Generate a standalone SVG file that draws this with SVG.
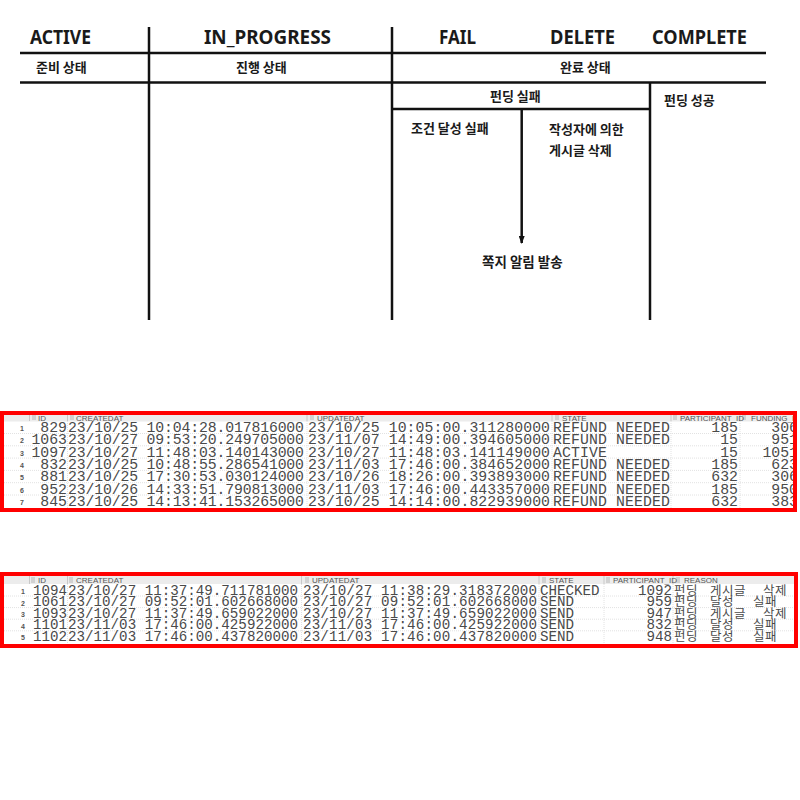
<svg xmlns="http://www.w3.org/2000/svg" width="800" height="800" viewBox="0 0 800 800">
<style>
.ln{stroke:#111;stroke-width:2.5;fill:none}
.hd{font-family:"Noto Sans","Liberation Sans",sans-serif;font-weight:700;font-size:20px;fill:#1a1a1a;text-anchor:middle}
.ko{font-family:"Noto Sans CJK KR",sans-serif;font-weight:700;font-size:13px;fill:#1a1a1a}
.m1{font-family:"Liberation Mono","Courier New",monospace;font-size:14.8px;fill:#4a4a4a}
.m2{font-family:"Liberation Mono","Courier New",monospace;font-size:14.2px;fill:#4a4a4a}
.e{text-anchor:end}
.rn{font-family:"Liberation Sans",sans-serif;font-size:7px;font-weight:700;fill:#555;text-anchor:middle}
.th{font-family:"Liberation Sans",sans-serif;font-size:8px;fill:#555}
.kr{font-family:"Noto Sans CJK KR",sans-serif;font-size:12.5px;font-weight:400;fill:#4a4a4a;letter-spacing:0.5px}
.grid{stroke:#e2e2e2;stroke-width:1;stroke-dasharray:1 1}
.div{stroke:#c8c8c8;stroke-width:1}
.ic{fill:none;stroke:#aaa;stroke-width:0.8}
.red{fill:none;stroke:#f00;stroke-width:4}
</style>
<defs>
<marker id="ah" markerWidth="8" markerHeight="6" refX="7" refY="3" orient="auto" markerUnits="userSpaceOnUse">
<path d="M0,0 L8,3 L0,6 Z" fill="#111"/>
</marker>
<clipPath id="c1"><rect x="4" y="415" width="789" height="95"/></clipPath>
<clipPath id="c2"><rect x="4" y="576" width="790" height="68"/></clipPath>
</defs>
<rect width="800" height="800" fill="#fff"/>

<g id="frame">
<line class="ln" x1="20" y1="53" x2="766" y2="53"/>
<line class="ln" x1="20" y1="82.5" x2="766" y2="82.5"/>
<line class="ln" x1="149" y1="27" x2="149" y2="320"/>
<line class="ln" x1="392" y1="27" x2="392" y2="320"/>
<line class="ln" x1="392" y1="109" x2="650" y2="109"/>
<line class="ln" x1="650" y1="82.5" x2="650" y2="320"/>
</g>

<g id="headers">
<text class="hd" x="60.5" y="44" textLength="61" lengthAdjust="spacingAndGlyphs">ACTIVE</text>
<text class="hd" x="267.5" y="44" textLength="127" lengthAdjust="spacingAndGlyphs">IN_PROGRESS</text>
<text class="hd" x="457.5" y="44" textLength="37" lengthAdjust="spacingAndGlyphs">FAIL</text>
<text class="hd" x="582.5" y="44" textLength="65" lengthAdjust="spacingAndGlyphs">DELETE</text>
<text class="hd" x="699.5" y="44" textLength="95" lengthAdjust="spacingAndGlyphs">COMPLETE</text>
</g>

<g id="node-ready"><text class="ko" x="36" y="72">준비 상태</text></g>
<g id="node-progress"><text class="ko" x="236" y="72">진행 상태</text></g>
<g id="node-done"><text class="ko" x="560" y="72">완료 상태</text></g>
<g id="node-fundfail"><text class="ko" x="490" y="101">펀딩 실패</text></g>
<g id="node-fundsuccess"><text class="ko" x="664" y="105">펀딩 성공</text></g>
<g id="node-condfail"><text class="ko" x="411" y="133">조건 달성 실패</text></g>
<g id="node-deleted"><text class="ko" x="549" y="134">작성자에 의한</text><text class="ko" x="549" y="155">게시글 삭제</text></g>
<g id="node-notify"><text class="ko" x="482" y="267" style="font-size:13.5px">쪽지 알림 발송</text></g>

<g id="connectors">
<line class="ln" x1="521.7" y1="109" x2="521.7" y2="243" marker-end="url(#ah)"/>
</g>

<g id="table1">
<g clip-path="url(#c1)">
<rect x="4" y="415" width="789" height="6.5" fill="#ececec"/>
<g class="grid">
<line x1="4" y1="433.5" x2="793" y2="433.5"/><line x1="4" y1="445.8" x2="793" y2="445.8"/>
<line x1="4" y1="458.1" x2="793" y2="458.1"/><line x1="4" y1="470.4" x2="793" y2="470.4"/>
<line x1="4" y1="482.7" x2="793" y2="482.7"/><line x1="4" y1="495" x2="793" y2="495"/>
<line x1="67.5" y1="421" x2="67.5" y2="510"/><line x1="307" y1="421" x2="307" y2="510"/>
<line x1="552" y1="421" x2="552" y2="510"/><line x1="671" y1="421" x2="671" y2="510"/>
<line x1="740" y1="421" x2="740" y2="510"/>
</g>
<g class="div">
<line x1="29.5" y1="415" x2="29.5" y2="421"/><line x1="67.5" y1="415" x2="67.5" y2="421"/>
<line x1="307" y1="415" x2="307" y2="421"/><line x1="552" y1="415" x2="552" y2="421"/>
<line x1="671" y1="415" x2="671" y2="421"/><line x1="740" y1="415" x2="740" y2="421"/>
</g>
<g class="ic">
<path d="M33,415 v5 M35,415 v5"/><path d="M71,415 v5 M73,415 v5"/><path d="M311,415 v5 M313,415 v5"/>
<path d="M556,415 v5 M558,415 v5"/><path d="M674,415 v5 M676,415 v5"/><path d="M743,415 v5 M745,415 v5"/>
</g>
<text class="th" x="38" y="420.5">ID</text>
<text class="th" x="76" y="420.5">CREATEDAT</text>
<text class="th" x="317" y="420.5">UPDATEDAT</text>
<text class="th" x="562" y="420.5">STATE</text>
<text class="th" x="680" y="420.5">PARTICIPANT_ID</text>
<text class="th" x="751" y="420.5">FUNDING_ID</text>

<text class="rn" x="22" y="431">1</text><text class="rn" x="22" y="443.3">2</text><text class="rn" x="22" y="455.6">3</text>
<text class="rn" x="22" y="467.9">4</text><text class="rn" x="22" y="480.2">5</text><text class="rn" x="22" y="492.5">6</text>
<text class="rn" x="22" y="504.8">7</text>

<text class="m1 e" x="67" y="432">829</text><text class="m1" x="68" y="432" textLength="236">23/10/25 10:04:28.017816000</text><text class="m1" x="308" y="432" textLength="242">23/10/25 10:05:00.311280000</text><text class="m1" x="553" y="432" textLength="117">REFUND NEEDED</text><text class="m1 e" x="738" y="432">185</text><text class="m1 e" x="798" y="432">306</text>
<text class="m1 e" x="67" y="444.3">1063</text><text class="m1" x="68" y="444.3" textLength="236">23/10/27 09:53:20.249705000</text><text class="m1" x="308" y="444.3" textLength="242">23/11/07 14:49:00.394605000</text><text class="m1" x="553" y="444.3" textLength="117">REFUND NEEDED</text><text class="m1 e" x="738" y="444.3">15</text><text class="m1 e" x="798" y="444.3">951</text>
<text class="m1 e" x="67" y="456.6">1097</text><text class="m1" x="68" y="456.6" textLength="236">23/10/27 11:48:03.140143000</text><text class="m1" x="308" y="456.6" textLength="242">23/10/27 11:48:03.141149000</text><text class="m1" x="553" y="456.6" textLength="54">ACTIVE</text><text class="m1 e" x="738" y="456.6">15</text><text class="m1 e" x="798" y="456.6">1051</text>
<text class="m1 e" x="67" y="468.9">832</text><text class="m1" x="68" y="468.9" textLength="236">23/10/25 10:48:55.286541000</text><text class="m1" x="308" y="468.9" textLength="242">23/11/03 17:46:00.384652000</text><text class="m1" x="553" y="468.9" textLength="117">REFUND NEEDED</text><text class="m1 e" x="738" y="468.9">185</text><text class="m1 e" x="798" y="468.9">623</text>
<text class="m1 e" x="67" y="481.2">881</text><text class="m1" x="68" y="481.2" textLength="236">23/10/25 17:30:53.030124000</text><text class="m1" x="308" y="481.2" textLength="242">23/10/26 18:26:00.393893000</text><text class="m1" x="553" y="481.2" textLength="117">REFUND NEEDED</text><text class="m1 e" x="738" y="481.2">632</text><text class="m1 e" x="798" y="481.2">306</text>
<text class="m1 e" x="67" y="493.5">952</text><text class="m1" x="68" y="493.5" textLength="236">23/10/26 14:33:51.790813000</text><text class="m1" x="308" y="493.5" textLength="242">23/11/03 17:46:00.443357000</text><text class="m1" x="553" y="493.5" textLength="117">REFUND NEEDED</text><text class="m1 e" x="738" y="493.5">185</text><text class="m1 e" x="798" y="493.5">950</text>
<text class="m1 e" x="67" y="505.8">845</text><text class="m1" x="68" y="505.8" textLength="236">23/10/25 14:13:41.153265000</text><text class="m1" x="308" y="505.8" textLength="242">23/10/25 14:14:00.822939000</text><text class="m1" x="553" y="505.8" textLength="117">REFUND NEEDED</text><text class="m1 e" x="738" y="505.8">632</text><text class="m1 e" x="798" y="505.8">383</text>
</g>
<rect class="red" x="2" y="413" width="793" height="97"/>
</g>

<g id="table2">
<g clip-path="url(#c2)">
<rect x="4" y="576" width="790" height="8" fill="#ececec"/>
<g class="grid">
<line x1="4" y1="596" x2="794" y2="596"/><line x1="4" y1="607.6" x2="794" y2="607.6"/>
<line x1="4" y1="619.2" x2="794" y2="619.2"/><line x1="4" y1="630.8" x2="794" y2="630.8"/>
<line x1="67.5" y1="584" x2="67.5" y2="644"/><line x1="301.5" y1="584" x2="301.5" y2="644"/>
<line x1="539" y1="584" x2="539" y2="644"/><line x1="604" y1="584" x2="604" y2="644"/>
<line x1="673" y1="584" x2="673" y2="644"/>
</g>
<g class="div">
<line x1="29.5" y1="576" x2="29.5" y2="584"/><line x1="67.5" y1="576" x2="67.5" y2="584"/>
<line x1="301.5" y1="576" x2="301.5" y2="584"/><line x1="539" y1="576" x2="539" y2="584"/>
<line x1="604" y1="576" x2="604" y2="584"/><line x1="673" y1="576" x2="673" y2="584"/>
</g>
<g class="ic">
<path d="M32,577 v6 M34,577 v6"/><path d="M70,577 v6 M72,577 v6"/><path d="M306,577 v6 M308,577 v6"/>
<path d="M543,577 v6 M545,577 v6"/><path d="M607,577 v6 M609,577 v6"/><path d="M677,577 v6 M679,577 v6"/>
</g>
<text class="th" x="38" y="583">ID</text>
<text class="th" x="76" y="583">CREATEDAT</text>
<text class="th" x="312" y="583">UPDATEDAT</text>
<text class="th" x="549" y="583">STATE</text>
<text class="th" x="613" y="583">PARTICIPANT_ID</text>
<text class="th" x="684" y="583">REASON</text>

<text class="rn" x="23" y="594">1</text><text class="rn" x="23" y="605.6">2</text><text class="rn" x="23" y="617.2">3</text>
<text class="rn" x="23" y="628.8">4</text><text class="rn" x="23" y="640.4">5</text>

<text class="m2 e" x="67" y="594.5">1094</text><text class="m2" x="68" y="594.5" textLength="230">23/10/27 11:37:49.711781000</text><text class="m2" x="303" y="594.5" textLength="234">23/10/27 11:38:29.318372000</text><text class="m2" x="540" y="594.5">CHECKED</text><text class="m2 e" x="672" y="594.5">1092</text>
<text class="kr" y="594.5"><tspan x="674">펀딩</tspan><tspan x="710">게시글</tspan><tspan x="763">삭제</tspan></text>
<text class="m2 e" x="67" y="606.1">1061</text><text class="m2" x="68" y="606.1" textLength="230">23/10/27 09:52:01.602668000</text><text class="m2" x="303" y="606.1" textLength="234">23/10/27 09:52:01.602668000</text><text class="m2" x="540" y="606.1">SEND</text><text class="m2 e" x="672" y="606.1">959</text>
<text class="kr" y="606.1"><tspan x="674">펀딩</tspan><tspan x="710">달성</tspan><tspan x="753">실패</tspan></text>
<text class="m2 e" x="67" y="617.7">1093</text><text class="m2" x="68" y="617.7" textLength="230">23/10/27 11:37:49.659022000</text><text class="m2" x="303" y="617.7" textLength="234">23/10/27 11:37:49.659022000</text><text class="m2" x="540" y="617.7">SEND</text><text class="m2 e" x="672" y="617.7">947</text>
<text class="kr" y="617.7"><tspan x="674">펀딩</tspan><tspan x="710">게시글</tspan><tspan x="763">삭제</tspan></text>
<text class="m2 e" x="67" y="629.3">1101</text><text class="m2" x="68" y="629.3" textLength="230">23/11/03 17:46:00.425922000</text><text class="m2" x="303" y="629.3" textLength="234">23/11/03 17:46:00.425922000</text><text class="m2" x="540" y="629.3">SEND</text><text class="m2 e" x="672" y="629.3">832</text>
<text class="kr" y="629.3"><tspan x="674">펀딩</tspan><tspan x="710">달성</tspan><tspan x="753">실패</tspan></text>
<text class="m2 e" x="67" y="640.9">1102</text><text class="m2" x="68" y="640.9" textLength="230">23/11/03 17:46:00.437820000</text><text class="m2" x="303" y="640.9" textLength="234">23/11/03 17:46:00.437820000</text><text class="m2" x="540" y="640.9">SEND</text><text class="m2 e" x="672" y="640.9">948</text>
<text class="kr" y="640.9"><tspan x="674">펀딩</tspan><tspan x="710">달성</tspan><tspan x="753">실패</tspan></text>
</g>
<rect class="red" x="2" y="574" width="794" height="72"/>
</g>
</svg>
